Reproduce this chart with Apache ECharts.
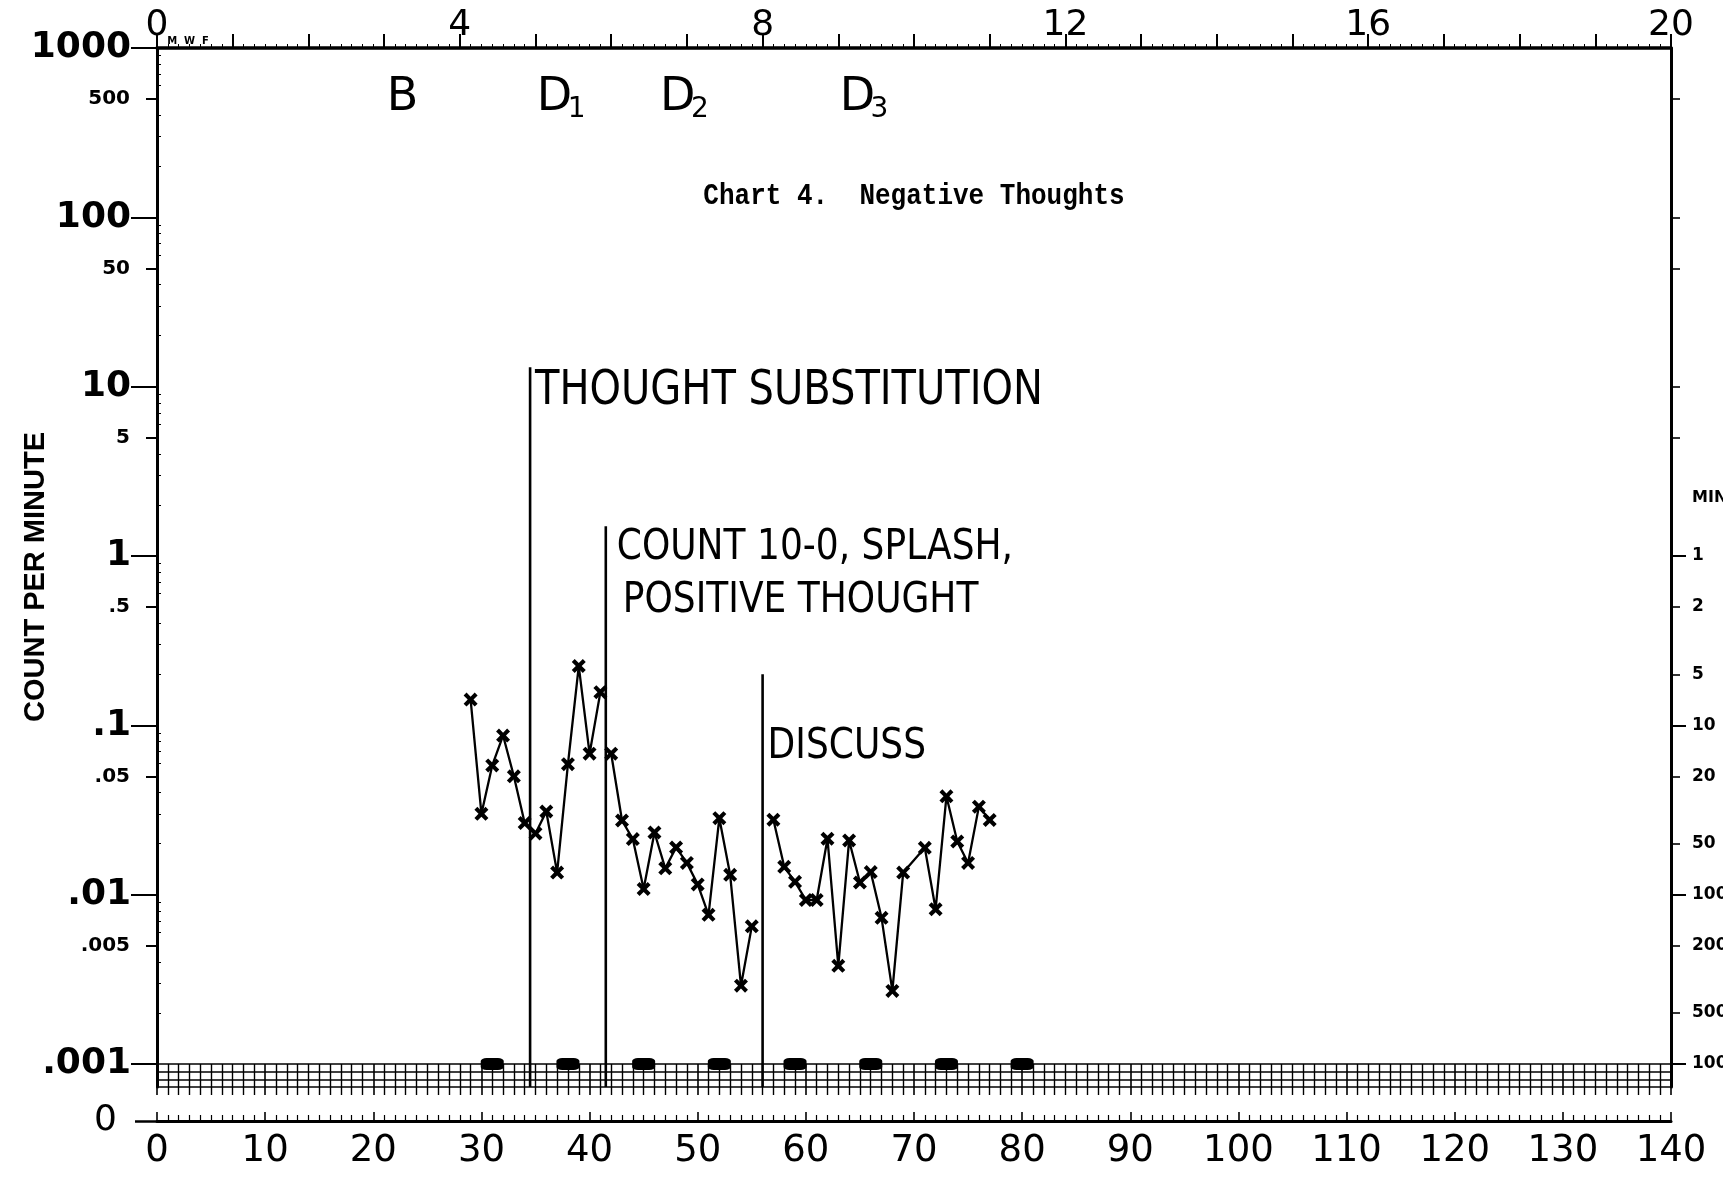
<!DOCTYPE html>
<html>
<head>
<meta charset="utf-8">
<script src="https://cdn.jsdelivr.net/npm/echarts@6/dist/echarts.min.js"></script>
<style>
  html, body { margin: 0; padding: 0; background: #fff; }
  #chart { width: 1723px; height: 1177px; }
</style>
</head>
<body>
<div id="chart"></div>
<script>
// record: successive days and count per minute
const days = [29, 30, 31, 32, 33, 34, 35, 36, 37, 38, 39, 40, 41,
  42, 43, 44, 45, 46, 47, 48, 49, 50, 51, 52, 53, 54, 55,
  57, 58, 59, 60, 61, 62, 63, 64, 65, 66, 67, 68, 69,
  71, 72, 73, 74, 75, 76, 77];
const counts = [0.142, 0.030, 0.058, 0.087, 0.050, 0.0265, 0.023, 0.031, 0.0135, 0.059, 0.224, 0.068, 0.157,
  0.068, 0.0274, 0.0213, 0.0108, 0.0233, 0.0143, 0.019, 0.0154, 0.0115, 0.0076, 0.0283, 0.0131, 0.0029, 0.0065,
  0.0277, 0.0146, 0.0119, 0.0093, 0.0093, 0.0214, 0.0038, 0.0209, 0.0118, 0.0136, 0.0073, 0.0027, 0.0135,
  0.0189, 0.0082, 0.0381, 0.0206, 0.0154, 0.0331, 0.0276];

// phase change lines and their notes
const phaseLineDays = [34.5, 41.5, 56];
const phaseLineTops = [13, 1.5, 0.2];
const phaseNotes = [['THOUGHT SUBSTITUTION'], ['COUNT 10-0, SPLASH,', 'POSITIVE THOUGHT'], ['DISCUSS']];

// phase tags written along the top
const phaseTags = ['B', 'D', 'D', 'D'];
const phaseTagSubs = ['', '1', '2', '3'];
const phaseTagDays = [22.7, 37.5, 48.9, 65.5];

// weekly record floor marks
const floorDays = [31, 38, 45, 52, 59, 66, 73, 80];

// tick labels
const decadeTicks = [0.001, 0.01, 0.1, 1, 10, 100, 1000];
const halfTicks = [0.005, 0.05, 0.5, 5, 50, 500];
const minuteTicks = [1, 2, 5, 10, 20, 50, 100, 200, 500, 1000];
const weekLabels = [0, 4, 8, 12, 16, 20];

const ink = '#000';
const xPath = 'path://M0,2.5L2.5,0L6,3.5L9.5,0L12,2.5L8.5,6L12,9.5L9.5,12L6,8.5L2.5,12L0,9.5L3.5,6Z';

const decadeFmt = function (v) {
  const r = +Number(v).toPrecision(1);
  return r >= 1 ? String(r) : String(r).replace(/^0/, '');
};
const minuteFmt = function (v) { return String(Math.round(1 / v)); };

const minorTicks = [];
decadeTicks.slice(0, -1).forEach(function (d) {
  [2, 3, 4, 6, 7, 8, 9].forEach(function (m) { minorTicks.push(+(d * m).toPrecision(2)); });
});
const rightMajor = minuteTicks.filter(m => /^10*$/.test(String(m))).map(m => 1 / m);
const rightMinor = minuteTicks.filter(m => !/^10*$/.test(String(m))).map(m => 1 / m);
const rightTop = halfTicks.filter(v => v > 1).concat(decadeTicks.filter(v => v > 1 && v < 1000));

// split the record into phases
const bounds = [0].concat(phaseLineDays, [140]);
const segments = phaseTags.map(function (t, i) {
  const seg = [];
  days.forEach(function (d, j) {
    if (d >= bounds[i] && d < bounds[i + 1]) seg.push([d, counts[j]]);
  });
  return seg;
});

const logY = function (extra) {
  return Object.assign({
    type: 'log', gridIndex: 0, min: 0.001, max: 1000,
    axisLine: { show: false, onZero: false },
    axisTick: { show: false },
    axisLabel: { show: false },
    splitLine: { show: false },
    minorTick: { show: false }
  }, extra);
};

const series = [];
segments.forEach(function (seg) {
  series.push({
    type: 'line', xAxisIndex: 0, yAxisIndex: 0, data: seg,
    symbol: xPath, symbolSize: 14, showSymbol: true,
    itemStyle: { color: ink },
    lineStyle: { color: ink, width: 2.3 },
    z: 4
  });
});
phaseLineDays.forEach(function (d, i) {
  series.push({
    type: 'line', xAxisIndex: 0, yAxisIndex: 0, symbol: 'none', clip: false,
    data: [[d, 0.001], [d, phaseLineTops[i]]],
    lineStyle: { color: ink, width: 2.6 }, z: 3
  });
  series.push({
    type: 'line', xAxisIndex: 1, yAxisIndex: 6, symbol: 'none', clip: false,
    data: [[d, 0], [d, 3]],
    lineStyle: { color: ink, width: 2.6 }, z: 3
  });
});
series.push({
  type: 'scatter', xAxisIndex: 0, yAxisIndex: 0, clip: false,
  data: floorDays.map(d => [d, 0.001]),
  symbol: 'roundRect', symbolSize: [23, 12],
  itemStyle: { color: ink, opacity: 1 }, z: 5
});

const gridBase = { left: 157, right: 52, outerBoundsMode: 'none', containLabel: false };
const option = {
  animation: false,
  backgroundColor: '#fff',
  textStyle: { fontFamily: 'DejaVu Sans', color: ink },
  grid: [
    Object.assign({ top: 48, height: 1016 }, gridBase),
    Object.assign({ top: 1064, height: 23 }, gridBase),
    Object.assign({ top: 1119, height: 2 }, gridBase)
  ],
  xAxis: [
    {
      type: 'value', gridIndex: 0, position: 'top', min: 0, max: 140, interval: 7,
      axisLine: { onZero: false, lineStyle: { color: ink, width: 3.5 } },
      axisTick: { length: 14, lineStyle: { color: ink, width: 2 } },
      minorTick: { show: true, splitNumber: 7, length: 4, lineStyle: { color: ink, width: 1 } },
      axisLabel: {
        margin: 4, fontSize: 36, color: ink,
        formatter: v => (weekLabels.indexOf(v / 7) >= 0 ? String(v / 7) : '')
      },
      splitLine: { show: false }
    },
    {
      type: 'value', gridIndex: 1, position: 'bottom', min: 0, max: 140, interval: 10,
      axisLine: { show: false, onZero: false },
      axisTick: { show: true, length: 8, lineStyle: { color: ink, width: 1.6 } },
      minorTick: { show: true, splitNumber: 10, length: 8, lineStyle: { color: ink, width: 1.4 } },
      axisLabel: { show: false },
      splitLine: { show: true, lineStyle: { color: ink, width: 1.6 } },
      minorSplitLine: { show: true, lineStyle: { color: ink, width: 1.4 } }
    },
    {
      type: 'value', gridIndex: 2, position: 'bottom', min: 0, max: 140, interval: 10,
      axisLine: { onZero: false, lineStyle: { color: ink, width: 3 } },
      axisTick: { inside: true, length: 9, lineStyle: { color: ink, width: 1.6 } },
      minorTick: { show: true, splitNumber: 10, length: 6, lineStyle: { color: ink, width: 1.2 } },
      axisLabel: { margin: 12, fontSize: 37, color: ink },
      splitLine: { show: false }
    }
  ],
  yAxis: [
    logY({
      position: 'left',
      axisLine: { show: true, onZero: false, lineStyle: { color: ink, width: 3 } },
      axisTick: { show: true, customValues: decadeTicks, length: 26, lineStyle: { color: ink, width: 2 } },
      axisLabel: { show: true, customValues: decadeTicks, formatter: decadeFmt, fontSize: 36, fontWeight: 'bold', margin: 26, color: ink }
    }),
    logY({
      position: 'left',
      axisTick: { show: true, customValues: halfTicks, length: 11, lineStyle: { color: ink, width: 2 } },
      axisLabel: { show: true, customValues: halfTicks, formatter: decadeFmt, fontSize: 20, fontWeight: 'bold', margin: 27, color: ink }
    }),
    logY({
      position: 'left',
      axisTick: { show: true, inside: true, customValues: minorTicks, length: 4, lineStyle: { color: ink, width: 1 } }
    }),
    logY({
      position: 'right',
      axisLine: { show: true, onZero: false, lineStyle: { color: ink, width: 3 } },
      axisTick: { show: true, customValues: rightMajor, length: 15, lineStyle: { color: ink, width: 2 } },
      axisLabel: { show: true, customValues: rightMajor, formatter: minuteFmt, fontSize: 17, fontWeight: 'bold', margin: 21, color: ink }
    }),
    logY({
      position: 'right',
      axisTick: { show: true, customValues: rightMinor.concat(rightTop), length: 9, lineStyle: { color: ink, width: 1.6 } },
      axisLabel: { show: true, customValues: rightMinor, formatter: minuteFmt, fontSize: 17, fontWeight: 'bold', margin: 21, color: ink }
    }),
    logY({
      position: 'right',
      axisLabel: { show: true, customValues: [2.2], formatter: () => 'MIN', fontSize: 16, fontWeight: 'bold', margin: 21, color: ink }
    }),
    {
      type: 'value', gridIndex: 1, position: 'left', min: 0, max: 3, interval: 1,
      axisLine: { show: true, onZero: false, lineStyle: { color: ink, width: 3 } },
      axisTick: { show: false }, axisLabel: { show: false },
      splitLine: { show: true, lineStyle: { color: ink, width: 1.6 } }
    },
    {
      type: 'value', gridIndex: 1, position: 'right', min: 0, max: 3, interval: 1,
      axisLine: { show: true, onZero: false, lineStyle: { color: ink, width: 3 } },
      axisTick: { show: false }, axisLabel: { show: false }, splitLine: { show: false }
    },
    {
      type: 'value', gridIndex: 2, position: 'left', min: 0, max: 1,
      axisLine: { show: false, onZero: false },
      axisTick: { show: true, customValues: [0], length: 22, lineStyle: { color: ink, width: 2.5 } },
      axisLabel: { show: true, customValues: [0], fontSize: 36, margin: 40, color: ink },
      splitLine: { show: false }
    }
  ],
  series: series
};

const chart = echarts.init(document.getElementById('chart'));
chart.setOption(option);

// handwritten notes, anchored on the data coordinates
const px = (d, v) => chart.convertToPixel({ seriesIndex: 0 }, [d, v]);
const noteLayout = [
  { dx: [5], dy: [24], size: 40 },
  { dx: [11, 17], dy: [22, 75], size: 36 },
  { dx: [5], dy: [72], size: 36 }
];
const graphics = [];
phaseNotes.forEach(function (lines, i) {
  const p = px(phaseLineDays[i], phaseLineTops[i]);
  lines.forEach(function (txt, k) {
    graphics.push({
      type: 'text', x: p[0] + noteLayout[i].dx[k], y: p[1] + noteLayout[i].dy[k], scaleY: 1.2,
      style: { text: txt, fontSize: noteLayout[i].size, fontFamily: 'DejaVu Sans', fill: ink, verticalAlign: 'middle' },
      z: 10
    });
  });
});
phaseTags.forEach(function (t, i) {
  const x = px(phaseTagDays[i], 1000)[0];
  graphics.push({
    type: 'text', x: x - (phaseTagSubs[i] ? 8 : 0), y: 98,
    style: { text: t, fontSize: 46, fontFamily: 'DejaVu Sans', fill: ink, align: 'center', verticalAlign: 'middle' },
    z: 10
  });
  if (phaseTagSubs[i]) {
    graphics.push({
      type: 'text', x: x + 14, y: 110,
      style: { text: phaseTagSubs[i], fontSize: 28, fontFamily: 'DejaVu Sans', fill: ink, align: 'center', verticalAlign: 'middle' },
      z: 10
    });
  }
});
graphics.push({
  type: 'text', x: 914, y: 196, scaleY: 1.15,
  style: { text: 'Chart 4.  Negative Thoughts', fontSize: 26, fontWeight: 'bold', fontFamily: 'Liberation Mono', fill: ink, align: 'center', verticalAlign: 'middle' },
  z: 10
});
graphics.push({
  type: 'text', x: 36, y: 577, rotation: Math.PI / 2,
  style: { text: 'COUNT PER MINUTE', fontSize: 29, fontWeight: 'bold', fontFamily: 'Liberation Sans', fill: ink, align: 'center', verticalAlign: 'middle' },
  z: 10
});
graphics.push({
  type: 'text', x: 188, y: 41,
  style: { text: 'M  W  F', fontSize: 10, fontWeight: 'bold', fontFamily: 'DejaVu Sans', fill: ink, align: 'center', verticalAlign: 'middle' },
  z: 10
});
chart.setOption({ graphic: graphics });
</script>
</body>
</html>
